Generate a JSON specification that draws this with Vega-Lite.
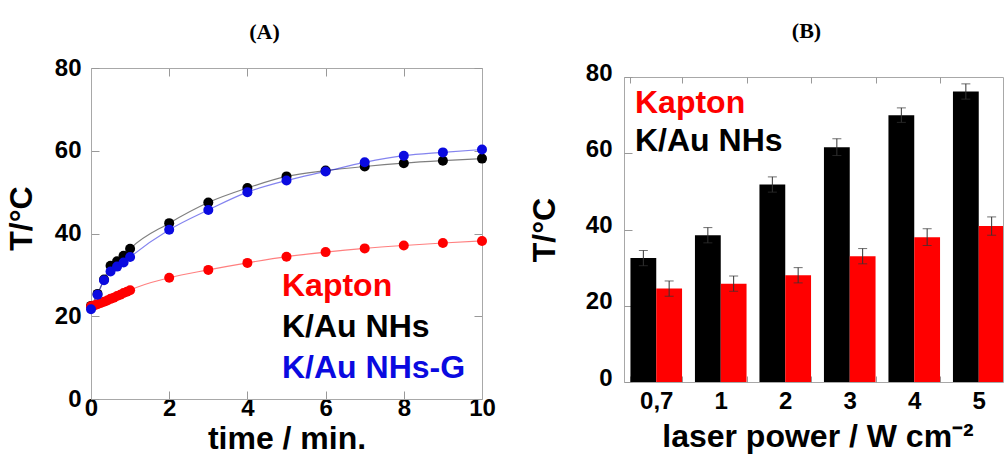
{
  "$schema": "https://vega.github.io/schema/vega-lite/v6.json",
  "background": "white",
  "padding": {"left": 5, "top": 19, "right": 0, "bottom": 0},
  "spacing": 31,
  "columns": 2,
  "align": "none",
  "config": {
    "view": {"stroke": "#a8a8a8", "strokeWidth": 1},
    "font": "Liberation Sans",
    "axis": {
      "labelFont": "Liberation Sans", "labelFontWeight": "bold", "labelFontSize": 24, "labelColor": "#000000",
      "titleFont": "Liberation Sans", "titleFontWeight": "bold", "titleFontSize": 32, "titleColor": "#000000",
      "domain": false, "domainColor": "#a8a8a8", "grid": false, "tickColor": "#999999", "tickWidth": 1, "labelFlush": false, "labelOverlap": false
    },
    "legend": {"labelLimit": 0}
  },
  "datasets": {
    "a": [
      {"t": 0, "T": 22.5, "s": "K/Au NHs"}, {"t": 0.167, "T": 25.4, "s": "K/Au NHs"}, {"t": 0.333, "T": 28.9, "s": "K/Au NHs"},
      {"t": 0.5, "T": 32.2, "s": "K/Au NHs"}, {"t": 0.667, "T": 33.3, "s": "K/Au NHs"}, {"t": 0.833, "T": 34.6, "s": "K/Au NHs"},
      {"t": 1, "T": 36.3, "s": "K/Au NHs"}, {"t": 2, "T": 42.5, "s": "K/Au NHs"}, {"t": 3, "T": 47.5, "s": "K/Au NHs"},
      {"t": 4, "T": 51.0, "s": "K/Au NHs"}, {"t": 5, "T": 53.8, "s": "K/Au NHs"}, {"t": 6, "T": 55.2, "s": "K/Au NHs"},
      {"t": 7, "T": 56.2, "s": "K/Au NHs"}, {"t": 8, "T": 57.0, "s": "K/Au NHs"}, {"t": 9, "T": 57.6, "s": "K/Au NHs"},
      {"t": 10, "T": 58.1, "s": "K/Au NHs"},
      {"t": 0, "T": 22.4, "s": "Kapton"}, {"t": 0.083, "T": 22.6, "s": "Kapton"}, {"t": 0.167, "T": 22.9, "s": "Kapton"},
      {"t": 0.25, "T": 23.2, "s": "Kapton"}, {"t": 0.333, "T": 23.5, "s": "Kapton"}, {"t": 0.417, "T": 23.8, "s": "Kapton"},
      {"t": 0.5, "T": 24.2, "s": "Kapton"}, {"t": 0.583, "T": 24.5, "s": "Kapton"}, {"t": 0.667, "T": 24.9, "s": "Kapton"},
      {"t": 0.75, "T": 25.2, "s": "Kapton"}, {"t": 0.833, "T": 25.6, "s": "Kapton"}, {"t": 0.917, "T": 25.9, "s": "Kapton"},
      {"t": 1, "T": 26.3, "s": "Kapton"}, {"t": 2, "T": 29.3, "s": "Kapton"}, {"t": 3, "T": 31.2, "s": "Kapton"},
      {"t": 4, "T": 32.9, "s": "Kapton"}, {"t": 5, "T": 34.4, "s": "Kapton"}, {"t": 6, "T": 35.5, "s": "Kapton"},
      {"t": 7, "T": 36.4, "s": "Kapton"}, {"t": 8, "T": 37.1, "s": "Kapton"}, {"t": 9, "T": 37.7, "s": "Kapton"},
      {"t": 10, "T": 38.2, "s": "Kapton"},
      {"t": 0, "T": 21.7, "s": "K/Au NHs-G"}, {"t": 0.167, "T": 25.2, "s": "K/Au NHs-G"}, {"t": 0.333, "T": 28.7, "s": "K/Au NHs-G"},
      {"t": 0.5, "T": 30.8, "s": "K/Au NHs-G"}, {"t": 0.667, "T": 32.0, "s": "K/Au NHs-G"}, {"t": 0.833, "T": 33.0, "s": "K/Au NHs-G"},
      {"t": 1, "T": 34.3, "s": "K/Au NHs-G"}, {"t": 2, "T": 40.9, "s": "K/Au NHs-G"}, {"t": 3, "T": 45.7, "s": "K/Au NHs-G"},
      {"t": 4, "T": 50.0, "s": "K/Au NHs-G"}, {"t": 5, "T": 52.8, "s": "K/Au NHs-G"}, {"t": 6, "T": 55.0, "s": "K/Au NHs-G"},
      {"t": 7, "T": 57.2, "s": "K/Au NHs-G"}, {"t": 8, "T": 58.8, "s": "K/Au NHs-G"}, {"t": 9, "T": 59.6, "s": "K/Au NHs-G"},
      {"t": 10, "T": 60.3, "s": "K/Au NHs-G"}
    ],
    "b": [
      {"p": "0,7", "s": "K/Au NHs", "T": 32.5, "e": 2.0}, {"p": "0,7", "s": "Kapton", "T": 24.5, "e": 2.0},
      {"p": "1", "s": "K/Au NHs", "T": 38.5, "e": 2.0}, {"p": "1", "s": "Kapton", "T": 25.8, "e": 2.0},
      {"p": "2", "s": "K/Au NHs", "T": 51.8, "e": 2.0}, {"p": "2", "s": "Kapton", "T": 28.0, "e": 2.0},
      {"p": "3", "s": "K/Au NHs", "T": 61.6, "e": 2.2}, {"p": "3", "s": "Kapton", "T": 33.0, "e": 2.0},
      {"p": "4", "s": "K/Au NHs", "T": 70.0, "e": 1.9}, {"p": "4", "s": "Kapton", "T": 38.0, "e": 2.2},
      {"p": "5", "s": "K/Au NHs", "T": 76.2, "e": 2.0}, {"p": "5", "s": "Kapton", "T": 40.9, "e": 2.4}
    ]
  },
  "resolve": {"scale": {"color": "independent"}, "legend": {"color": "independent"}},
  "concat": [
    {
      "width": 391,
      "height": 322,
      "view": {"stroke": null},
      "data": {"name": "a"},
      "resolve": {"axis": {"x": "independent", "y": "independent"}},
      "layer": [
        {
          "mark": {"type": "line", "strokeWidth": 1.2, "opacity": 0.5, "interpolate": "monotone"},
          "encoding": {
            "x": {"field": "t", "type": "quantitative", "scale": {"domain": [0, 10], "nice": false},
                  "axis": {"orient": "bottom", "domain": true, "values": [0, 2, 4, 6, 8, 10], "tickSize": -8, "labelPadding": 5, "title": "time / min.", "titlePadding": 3}},
            "y": {"field": "T", "type": "quantitative", "scale": {"domain": [0, 80], "nice": false, "range": [322, -9]},
                  "axis": {"orient": "left", "domain": true, "values": [0, 20, 40, 60, 80], "tickSize": -8, "labelPadding": 18, "title": "T/°C", "titlePadding": 16, "titleY": 141}},
            "color": {"field": "s", "type": "nominal",
                      "scale": {"domain": ["Kapton", "K/Au NHs", "K/Au NHs-G"], "range": ["#ff0000", "#000000", "#0a0ae0"]},
                      "legend": {"title": null, "orient": "none", "legendX": 191, "legendY": 193, "symbolType": "circle", "symbolSize": 0, "symbolOpacity": 0, "symbolStrokeWidth": 0,
                                 "labelOffset": -32, "labelFont": "Liberation Sans", "labelFontWeight": "bold", "labelFontSize": 32, "rowPadding": 9, "padding": 0, "labelLimit": 0,
                                 "labelColor": {"expr": "datum.value === 'Kapton' ? '#ff0000' : datum.value === 'K/Au NHs' ? '#000000' : '#0a0ae0'"}}}
          }
        },
        {
          "mark": {"type": "point", "filled": true, "size": 100, "opacity": 1},
          "encoding": {
            "x": {"field": "t", "type": "quantitative", "axis": null},
            "y": {"field": "T", "type": "quantitative", "axis": null},
            "color": {"field": "s", "type": "nominal",
                      "legend": {"title": null, "orient": "none", "legendX": 191, "legendY": 193, "symbolType": "circle", "symbolSize": 0, "symbolOpacity": 0, "symbolStrokeWidth": 0,
                                 "labelOffset": -32, "labelFont": "Liberation Sans", "labelFontWeight": "bold", "labelFontSize": 32, "rowPadding": 9, "padding": 0, "labelLimit": 0,
                                 "labelColor": {"expr": "datum.value === 'Kapton' ? '#ff0000' : datum.value === 'K/Au NHs' ? '#000000' : '#0a0ae0'"}}}
          }
        },
        {
          "mark": {"type": "point", "opacity": 0},
          "encoding": {
            "x": {"field": "t", "type": "quantitative",
                  "axis": {"orient": "top", "domain": true, "offset": 9, "values": [0, 2, 4, 6, 8, 10], "tickSize": -8, "labels": false,
                           "title": "(A)", "titleFont": "Liberation Serif", "titleFontSize": 22, "titleFontWeight": "bold", "titlePadding": 24, "titleX": 173}},
            "y": {"field": "T", "type": "quantitative",
                  "axis": {"orient": "right", "domain": true, "values": [0, 20, 40, 60, 80], "tickSize": -8, "labels": false, "title": null}}
          }
        }
      ]
    },
    {
      "width": 379,
      "height": 305,
      "data": {"name": "b"},
      "resolve": {"axis": {"x": "independent"}},
      "layer": [
        {
          "mark": {"type": "bar", "clip": true},
          "encoding": {
            "x": {"field": "p", "type": "nominal", "sort": null,
                  "scale": {"range": [0, 387], "paddingInner": 0.2, "paddingOuter": 0.1},
                  "axis": {"orient": "bottom", "tickBand": "extent", "tickSize": -6, "labelPadding": 13, "labelAngle": 0, "title": "laser power / W cm⁻²", "titlePadding": 8}},
            "xOffset": {"field": "s", "type": "nominal", "scale": {"domain": ["K/Au NHs", "Kapton"], "paddingInner": 0, "paddingOuter": 0}},
            "y": {"field": "T", "type": "quantitative", "title": "T/°C", "scale": {"domain": [0, 80], "nice": false},
                  "axis": {"orient": "left", "values": [0, 20, 40, 60, 80], "tickSize": -8, "labelPadding": 20, "labelOffset": -4, "title": "T/°C", "titlePadding": 24}},
            "color": {"field": "s", "type": "nominal",
                      "scale": {"domain": ["Kapton", "K/Au NHs"], "range": ["#ff0000", "#000000"]},
                      "legend": {"title": null, "orient": "none", "legendX": 11, "legendY": 10, "symbolType": "circle", "symbolSize": 0, "symbolOpacity": 0, "symbolStrokeWidth": 0,
                                 "labelOffset": -32, "labelFont": "Liberation Sans", "labelFontWeight": "bold", "labelFontSize": 32, "rowPadding": 6, "padding": 0, "labelLimit": 0,
                                 "labelColor": {"expr": "datum.value === 'Kapton' ? '#ff0000' : '#000000'"}}}
          }
        },
        {
          "mark": {"type": "errorbar", "color": "#333333", "ticks": {"size": 9}, "thickness": 1},
          "encoding": {
            "x": {"field": "p", "type": "nominal", "sort": null, "axis": null},
            "xOffset": {"field": "s", "type": "nominal"},
            "y": {"field": "T", "type": "quantitative", "title": "T/°C"},
            "yError": {"field": "e"}
          }
        },
        {
          "mark": {"type": "bar", "opacity": 0, "clip": true},
          "encoding": {
            "x": {"field": "p", "type": "nominal", "sort": null,
                  "axis": {"orient": "top", "tickBand": "extent", "tickSize": -6, "labels": false,
                           "title": "(B)", "titleFont": "Liberation Serif", "titleFontSize": 22, "titleFontWeight": "bold", "titlePadding": 34, "titleX": 182}},
            "y": {"field": "T", "type": "quantitative", "title": "T/°C"}
          }
        }
      ]
    }
  ]
}
